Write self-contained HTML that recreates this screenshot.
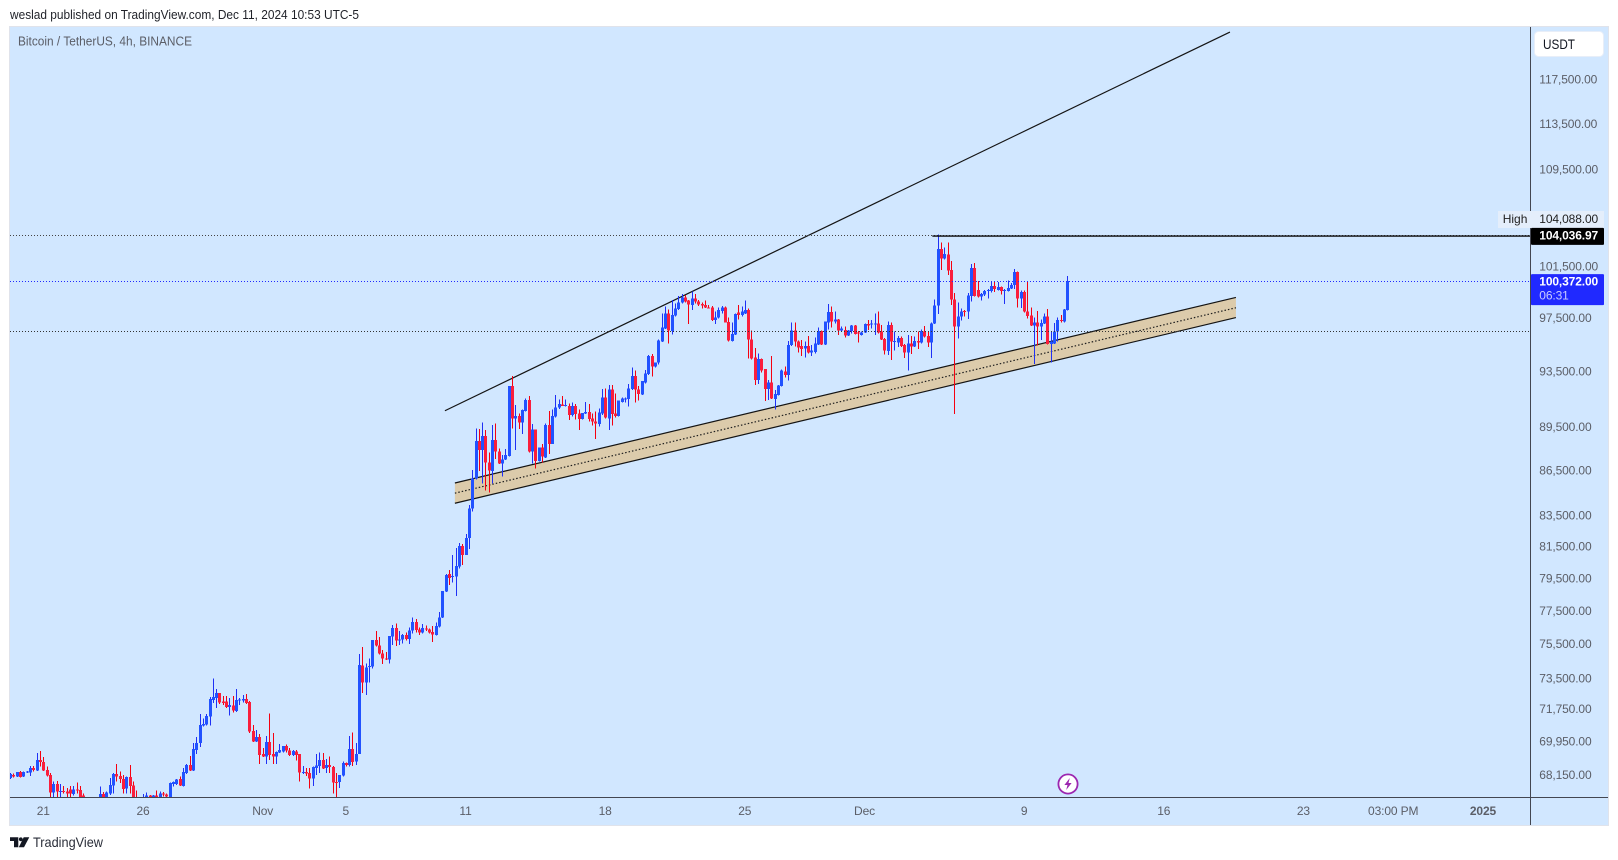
<!DOCTYPE html>
<html lang="en">
<head>
<meta charset="utf-8">
<title>Bitcoin / TetherUS 4h chart</title>
<style>
html,body{margin:0;padding:0;background:#fff;width:1618px;height:860px;overflow:hidden}
svg{display:block}
text{font-family:"Liberation Sans",Arial,sans-serif}
.tick{font-size:12px;letter-spacing:-.13px;fill:#5b5e67}
</style>
</head>
<body>
<svg id="chart" xmlns="http://www.w3.org/2000/svg" width="1618" height="860" viewBox="0 0 1618 860">
  <defs>
    <clipPath id="pane-clip"><rect x="10" y="27" width="1520" height="770"/></clipPath>
  </defs>
  <text x="10" y="19" font-size="13" fill="#1f2128" textLength="349" lengthAdjust="spacingAndGlyphs">weslad published on TradingView.com, Dec 11, 2024 10:53 UTC-5</text>
  <rect x="9.5" y="26.5" width="1599" height="799" fill="#d1e7ff" stroke="#e0e3eb"/>
  <text x="18" y="45.5" font-size="12.5" fill="#5b5e67" textLength="174" lengthAdjust="spacingAndGlyphs">Bitcoin / TetherUS, 4h, BINANCE</text>
  <g id="drawings-under" clip-path="url(#pane-clip)"></g>
  <g id="candles" clip-path="url(#pane-clip)"></g>
  <g id="drawings-over" clip-path="url(#pane-clip)"></g>
  <line x1="1530.5" y1="27" x2="1530.5" y2="825" stroke="#434651"/>
  <line x1="10" y1="797.5" x2="1608" y2="797.5" stroke="#434651"/>
  <g id="price-axis"></g>
  <g id="time-axis"></g>
  <g>
    <rect x="1534.5" y="31.5" width="69" height="25" rx="4" fill="#fff" stroke="#e8eef8"/>
    <text x="1543" y="49" font-size="14" fill="#131722" textLength="32" lengthAdjust="spacingAndGlyphs">USDT</text>
  </g>
  <g id="price-labels"></g>
  <g>
    <circle cx="1068" cy="784" r="9.6" fill="#fff" stroke="#9c27b0" stroke-width="1.8"/>
    <polygon points="1069.8,778 1064.4,785 1067.5,785 1066.2,790 1071.6,783 1068.5,783" fill="#9c27b0"/>
  </g>
  <g>
    <polygon points="10,837.3 18.3,837.3 18.3,847.3 14,847.3 14,841 10,841" fill="#131722"/>
    <circle cx="20.8" cy="839.3" r="1.9" fill="#131722"/>
    <polygon points="23.7,837.3 29.3,837.3 24,847.3 18.8,847.3" fill="#131722"/>
    <text x="33" y="847" font-size="14" fill="#2a2e39" textLength="70" lengthAdjust="spacingAndGlyphs">TradingView</text>
  </g>
</svg>
<script>
const opens=[
68000,68180,68090,68320,68090,68300,68300,68550,68410,68980,
68870,68445,68160,67235,67700,67270,67325,67305,67410,67165,
67410,67375,67075,66850,66300,66500,66400,66850,67165,66990,
67200,67610,68230,68125,67945,67450,68055,67610,66990,66700,
66760,66850,67075,66940,67095,66990,67200,67145,66990,67700,
67700,67965,67590,68270,68695,68410,69525,69890,70860,70915,
71360,72300,72395,72680,72205,72205,71885,71980,71680,72260,
72260,72340,72190,70565,69980,70220,69290,69160,69945,69310,
69160,69380,69435,69745,69490,69255,69435,69290,68285,68320,
68270,67980,68535,68660,68980,68535,68695,68590,67800,67785,
68145,68800,68715,69580,68890,69290,74285,73285,74205,74205,
75770,75455,74985,74690,74630,75970,76490,75750,75790,76070,
75830,76330,76850,76410,76210,76470,76410,76250,76070,76570,
77110,78700,79795,79630,79630,80255,81570,80990,82080,84010,
86000,88550,87935,88900,87090,86500,88620,87845,87025,87295,
87525,92450,90115,90300,89835,90660,91440,87820,89365,87180,
88120,87435,89670,88345,90255,90920,91130,91010,91035,90370,
91010,90490,90090,90490,90585,90140,89905,89740,90490,91630,
90140,92215,90490,90325,91320,91510,91510,92240,93185,92215,
91850,92720,93330,94660,93870,94165,95725,96730,97875,96530,
97695,98205,98695,99110,98850,98515,99030,98770,98590,98515,
98335,98335,97360,97565,98050,98310,97210,95775,96280,97925,
97745,97875,98130,95900,94560,92890,94435,93700,92240,92720,
91510,91800,92455,93525,93260,95455,96580,95725,95405,95205,
95405,94905,94955,95505,96530,95505,97160,97975,97235,97410,
96555,96605,96180,96530,96930,96430,96230,96430,97060,97035,
97035,97110,96480,95925,95030,96980,95725,95675,96000,95480,
94905,95600,95355,95775,95650,96505,96150,95650,97110,98490,
102910,102155,102505,101235,98950,96855,97620,98050,98000,99215,
101390,99685,99160,99320,99580,99605,99995,99685,99895,99605,
99605,99790,100050,101105,99030,99530,98000,97720,96930,97180,
96855,97105,97645,95550,95600,96480,97360,97230,98130];
const highs=[
68270,68250,68340,68390,68360,68390,68660,68640,69345,69470,
69125,68625,68270,67820,67840,67700,67590,67465,67590,67590,
67770,67590,67200,66950,66700,66800,66900,67555,67255,67290,
68000,68270,68765,68360,68180,68090,68715,67820,67340,66900,
67165,67235,67110,67110,67340,67290,67255,67200,67770,67820,
67965,68090,68535,68750,69200,69890,70220,71510,71265,71510,
72450,73535,72910,72680,72530,72530,72395,72530,72930,72395,
72585,72640,72225,70895,70620,70400,69615,70290,71545,70440,
69435,69850,69745,69815,69615,69525,69525,69310,68660,68535,
68535,68625,69310,69380,69345,69015,69160,68660,68270,68180,
68890,68840,70290,70475,69890,74945,75355,74400,74690,75770,
76310,75950,75180,75060,76010,76670,76770,76310,76130,76230,
76530,77130,77030,76530,76730,76650,76470,76610,76830,77450,
78740,79795,80045,80990,81440,81740,81695,82335,84230,86570,
89440,89390,89855,89320,87775,89670,89785,88050,87590,88005,
92450,93185,91085,90490,90775,91560,91730,89740,89365,88120,
88345,89785,90660,90775,91800,91490,91730,91490,91205,91275,
91155,90775,90535,91320,91155,90490,90610,90845,92240,92290,
92520,92520,91920,91395,91630,91630,92590,93820,93575,92450,
92815,93625,94730,94810,94190,95900,97875,98385,98180,98900,
98645,99215,99370,99290,98900,99550,99370,98900,98695,98850,
98515,98440,98000,98310,98440,98385,97565,97160,97875,98515,
98385,98850,98255,96555,95230,94855,94485,93700,92890,94660,
92165,92530,93675,93870,95775,97185,97185,95800,95850,95725,
96150,95480,96025,96805,96555,97235,98590,98385,98000,97435,
96855,96855,96605,96980,96980,96530,96480,97110,97360,97360,
97875,98025,96980,96000,97235,97185,96480,96150,96105,95550,
96230,96150,96100,96480,96655,96905,96480,97160,98950,104088,
103470,103070,103470,101970,99425,98720,98255,98130,99425,101710,
101790,100390,99425,99685,99740,100310,100365,100285,99945,99740,
100415,100205,101310,101130,99630,99630,100390,98335,97540,98050,
97410,97875,98205,96480,97130,97565,97745,98205,100785];
const lows=[
67965,68035,68055,68035,68070,68270,68125,68360,68375,68625,
68390,68090,66990,66850,66850,66900,67200,66990,66990,67095,
67200,66760,66670,65900,65800,66100,66200,66760,66670,66940,
67110,67200,67820,67735,67200,67200,67200,66760,66500,66400,
66670,66670,66850,66850,66850,66940,67025,66940,66940,67555,
67645,67590,67555,68230,68375,68375,69290,69670,70800,70875,
70860,72110,71830,72075,72015,71850,71415,71585,71605,72015,
72150,72075,70440,69945,69945,68765,69125,68765,68980,68765,
68765,69345,69380,69380,69200,69200,68945,67820,68230,68125,
67450,67590,68180,68270,68480,68270,68270,67200,66990,67465,
68090,68625,68625,68660,68715,69290,72680,72585,73300,74110,
75375,74925,74360,74590,74400,75475,75415,75475,75575,75730,
75535,76170,76230,76070,76170,76310,76170,75650,76050,76530,
77090,78680,79110,79255,78430,80150,80360,80990,81370,83790,
85935,86500,85670,85180,85050,85670,87320,86980,86115,87250,
87480,89440,87935,89390,89040,90610,87775,87025,86660,87135,
87090,87390,87660,88345,90210,90800,91010,90965,90020,90255,
90065,89320,90065,90445,89905,89625,88690,89555,90370,90140,
89320,89625,90210,90255,91275,91250,90965,92165,91250,91395,
91800,92650,93260,93135,93820,94015,95700,96680,95600,96280,
97620,98130,98645,98720,97060,98130,98645,98440,98255,98285,
98255,97285,97060,97490,97875,97160,95750,95725,96205,97410,
97620,97825,94485,94410,92530,92600,93430,91390,91440,91510,
90780,91755,92405,93085,92840,95405,95355,94905,94660,94560,
94855,94660,94855,95480,95480,95480,96655,96805,97110,96230,
96530,96030,96155,96355,96255,95650,96180,96380,96605,96730,
96230,96355,95850,94760,94710,94360,95055,95305,95305,94510,
93575,94810,95305,95180,95600,96050,95305,94510,97060,97825,
101260,102100,100860,98515,90445,95950,97310,97620,97435,98770,
99160,99110,98850,99215,99005,99475,99530,99630,99320,98590,
99555,99740,99740,98335,98280,97950,97460,96900,94065,95450,
95850,97050,95500,94185,95550,95725,97180,97180,98080];
const closes=[
68215,68090,68320,68070,68320,68360,68550,68430,68980,68870,
68410,68145,67235,67700,67290,67325,67270,67185,67185,67410,
67340,66990,66850,66300,66500,66400,66750,67165,66940,67235,
67625,68230,68090,67945,67430,68070,67590,66990,66700,66550,
66990,67075,66940,67095,66990,67200,67130,67025,67735,67800,
67930,67610,68320,68695,68410,69560,69890,70895,70950,71395,
72340,72450,72680,72150,72110,71885,72015,71695,72280,72320,
72340,72110,70530,69980,70220,69255,69160,69945,69255,69160,
69415,69525,69725,69490,69255,69455,69255,68300,68320,68250,
67980,68590,68680,68980,68515,68695,68590,67770,67750,68160,
68820,68715,69580,68855,69310,74300,73285,74160,74245,75770,
75435,74965,74670,74650,76010,76490,75750,75810,76070,75830,
76350,76850,76370,76210,76490,76430,76210,76090,76610,77130,
78740,79730,79545,79670,80295,81570,80990,82080,84010,86000,
88550,87935,88900,87070,86520,88620,87820,87025,87295,87590,
92450,90115,90300,89835,90730,91440,87820,89365,87180,88120,
87480,89670,88345,90300,90920,91155,91035,91085,90370,91010,
90445,90090,90535,90585,90090,89905,89785,90560,91630,90185,
92215,90445,90325,91395,91560,91560,92290,93185,92215,91870,
92815,93380,94660,93870,94190,95800,96805,97875,96555,97745,
98255,98720,99110,98770,98540,99030,98770,98540,98465,98310,
98285,97360,97565,98130,98310,97185,95800,96305,97825,97745,
98000,98130,95900,94485,92890,94435,93575,92240,92695,91540,
91875,92480,93575,93260,95455,96580,95725,95280,95180,95405,
94905,95055,95600,96530,95505,97235,97975,97235,97410,96555,
96705,96180,96580,96955,96305,96355,96430,97060,96930,97110,
97110,96405,95900,95055,96980,95725,95775,96000,95405,94905,
95600,95355,95775,95675,96530,96100,95650,97110,98490,102910,
102155,102530,101205,98950,96855,97645,98025,97975,99265,101390,
99215,99160,99345,99605,99685,99995,99740,99895,99580,99685,
99815,100075,101105,99030,99530,98000,97670,96930,97180,96855,
97130,97620,95550,95750,96505,97360,97285,98180,100372];

const priceTicks=[117500,113500,109500,101500,97500,93500,89500,86500,83500,81500,79500,77500,75500,73500,71750,69950,68150];
const dateTickBars=[10,40,76,101,137,179,221,257,305,347,389,416,443];
const dateTickLabels=["21","26","Nov","5","11","18","25","Dec","9","16","23","03:00 PM","2025"];
const highMarker=104088;
const highLevel=104036.97;
const supportLevel=96490;
const countdown="06:31";
const trendBars=[130.8,366.9];
const trendPrices=[90680,122000];
const channelBars=[133.8,368.7];
const channelUpper=[85690,99095];
const channelMiddle=[85010,98300];
const channelLower=[84340,97545];
const levelStartBar=277.4;

const NS='http://www.w3.org/2000/svg';
function xScale(i){return 10+3.325*i;}
function yScale(p){return 80+1276.5*Math.log(117500/p);}
function crisp(y){return Math.round(y)+.5;}
function fmt(p){
  const s=p.toFixed(2).split('.');
  return s[0].replace(/\B(?=(\d{3})+$)/g,',')+'.'+s[1];
}
function make(tag,attrs,parent){
  const el=document.createElementNS(NS,tag);
  for(const k in attrs){el.setAttribute(k,attrs[k]);}
  parent.appendChild(el);
  return el;
}

const under=document.getElementById('drawings-under');
const over=document.getElementById('drawings-over');
const candles=document.getElementById('candles');
const priceAxis=document.getElementById('price-axis');
const timeAxis=document.getElementById('time-axis');
const priceLabels=document.getElementById('price-labels');

/* channel */
const band=make('polygon',{points:[
  xScale(channelBars[0])+','+yScale(channelUpper[0]),
  xScale(channelBars[1])+','+yScale(channelUpper[1]),
  xScale(channelBars[1])+','+yScale(channelLower[1]),
  xScale(channelBars[0])+','+yScale(channelLower[0])].join(' '),fill:'#dccbab'},under);


const upperEdge=make('line',{x1:xScale(channelBars[0]),y1:yScale(channelUpper[0]),x2:xScale(channelBars[1]),y2:yScale(channelUpper[1]),stroke:'#141414','stroke-width':1.2},under);


const lowerEdge=make('line',{x1:xScale(channelBars[0]),y1:yScale(channelLower[0]),x2:xScale(channelBars[1]),y2:yScale(channelLower[1]),stroke:'#141414','stroke-width':1.2},under);


const midEdge=make('line',{x1:xScale(channelBars[0]),y1:yScale(channelMiddle[0]),x2:xScale(channelBars[1]),y2:yScale(channelMiddle[1]),stroke:'#1e1e1e','stroke-width':1.2,'stroke-dasharray':'1.5 2'},under);



/* candles */
for(let i=0;i<opens.length;i++){
  const up=closes[i]>=opens[i];
  const px=Math.round(xScale(i));
  const top=yScale(Math.max(opens[i],closes[i]));
  const bot=yScale(Math.min(opens[i],closes[i]));
  const g=make('g',{'shape-rendering':'crispEdges'},candles);
  
  
  const wick=make('rect',{x:px,y:yScale(highs[i]),width:1,height:Math.max(1,yScale(lows[i])-yScale(highs[i])),fill:up?'#1f30f5':'#f5000f'},g);
  
  
  const body=make('rect',{x:px-1,y:top,width:3,height:Math.max(1,bot-top),fill:up?'#2152ff':'#fa1e3c'},g);
  
  
}

/* rising trendline */
const trend=make('line',{x1:xScale(trendBars[0]),y1:yScale(trendPrices[0]),x2:xScale(trendBars[1]),y2:yScale(trendPrices[1]),stroke:'#141414','stroke-width':1.2},under);



/* levels */
const lastPrice=closes[closes.length-1];
const dotHigh=make('line',{x1:10,y1:crisp(yScale(highLevel)),x2:1530,y2:crisp(yScale(highLevel)),stroke:'#444','stroke-dasharray':'1 2'},over);


const solidHigh=make('line',{x1:xScale(levelStartBar),y1:yScale(highLevel)+.7,x2:1530,y2:yScale(highLevel)+.7,stroke:'#0a0a0a','stroke-width':1.4},over);


const lastLine=make('line',{x1:10,y1:crisp(yScale(lastPrice)),x2:1530,y2:crisp(yScale(lastPrice)),stroke:'#2029ff','stroke-dasharray':'1 2'},over);


const supLine=make('line',{x1:10,y1:crisp(yScale(supportLevel)),x2:1530,y2:crisp(yScale(supportLevel)),stroke:'#333','stroke-dasharray':'1 2'},over);



/* price axis */
priceTicks.forEach(function(p){
  const t=make('text',{x:1539.3,y:yScale(p)+3.6,class:'tick'},priceAxis);
  
  
  t.textContent=fmt(p);
});

/* time axis */
dateTickBars.forEach(function(b,k){
  const bold=dateTickLabels[k]==='2025';
  const t=make('text',{x:xScale(b),y:815,'text-anchor':'middle',class:'tick','font-weight':bold?'700':'400'},timeAxis);
  
  
  t.textContent=dateTickLabels[k];
});

/* labels: high marker */
const hy=219.5;
const highBg=make('rect',{x:1498,y:hy-8.5,width:106,height:17,fill:'#e4eefb'},priceLabels);


const highTxt=make('text',{x:1502.7,y:hy+3.6,'font-size':12,fill:'#222'},priceLabels);


highTxt.textContent='High';
const highVal=make('text',{x:1539.3,y:hy+3.6,class:'tick',style:'fill:#222'},priceLabels);


highVal.textContent=fmt(highMarker);

/* high level tag */
const ly=yScale(highLevel);
const levelBg=make('rect',{x:1531,y:ly-7.5,width:73,height:17,rx:1,fill:'#000'},priceLabels);


const levelTxt=make('text',{x:1539.3,y:ly+4.4,class:'tick','font-weight':'700',style:'fill:#fff'},priceLabels);


levelTxt.textContent=fmt(highLevel);

/* last price tag */
const py=yScale(lastPrice)+1;
const lastBg=make('rect',{x:1531,y:py-8,width:73,height:31,rx:1,fill:'#2029ff'},priceLabels);


const lastTxt=make('text',{x:1539.3,y:py+3.6,class:'tick','font-weight':'700',style:'fill:#fff'},priceLabels);


lastTxt.textContent=fmt(lastPrice);
const cdTxt=make('text',{x:1539.3,y:py+17.6,class:'tick',style:'fill:#c9ccff'},priceLabels);


cdTxt.textContent=countdown;
</script>
</body>
</html>
